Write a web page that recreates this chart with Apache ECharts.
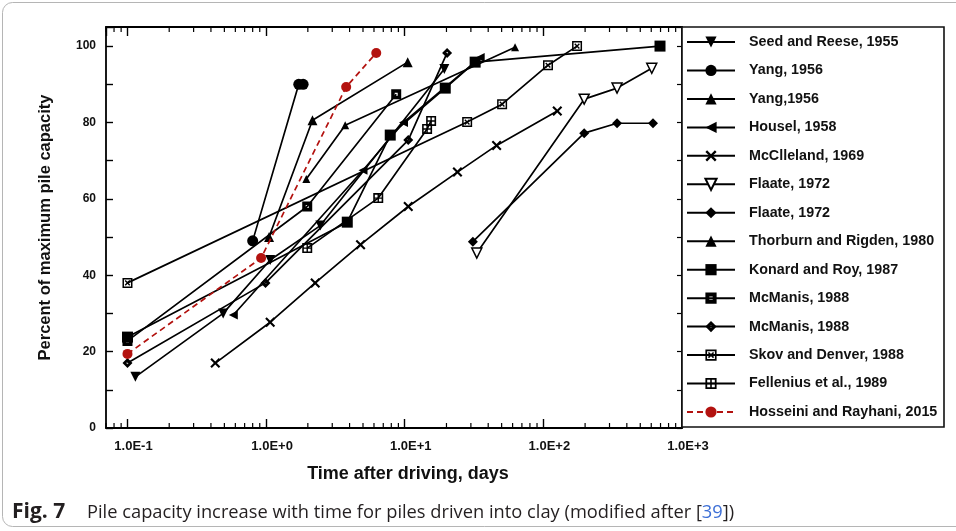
<!DOCTYPE html>
<html><head><meta charset="utf-8">
<script src="https://cdn.jsdelivr.net/npm/echarts@6/dist/echarts.min.js"></script>
<style>html,body{margin:0;padding:0;background:#fff}#c{width:956px;height:531px}</style>
</head><body><div id="c"></div><script>
// ---- data (time in days, percent of maximum pile capacity) ----
const seedReese   = [[0.114,13.4],[0.49,30],[1.07,44],[2.46,53],[19.3,94]];
const yangCircle  = [[0.8,49],[1.72,90],[1.85,90]];
const yangTri     = [[1.05,50],[2.16,80.6],[10.5,95.8]];
const housel      = [[0.58,29.6],[5.0,67.5],[9.8,80],[35,97]];
const mcclleland  = [[0.43,17],[1.07,27.7],[2.26,38],[4.8,48],[10.6,58],[24,67],[46,74],[126,83]];
const flaateTri   = [[33.1,45.8],[197,86.1],[340,89],[605,94.2]];
const flaateDia   = [[31,48.8],[197,77.2],[340,79.8],[618,79.8]];
const thorburn    = [[1.95,65.2],[3.72,79.3],[62.5,99.7]];
const konard      = [[0.1,23.8],[3.85,53.9],[7.86,76.7],[19.6,89],[32.2,95.8],[694,100]];
const mcmanisSq   = [[0.1,22.8],[1.98,58],[8.68,87.4]];
const mcmanisDia  = [[0.1,17],[0.99,38],[10.6,75.4],[20.2,98.2]];
const skov        = [[0.1,38],[28.2,80.1],[50.4,84.8],[108,95],[175,100]];
const fellenius   = [[1.98,47.1],[6.44,60.2],[14.5,78.3],[15.5,80.4]];
const hosseini    = [[0.1,19.4],[0.92,44.5],[3.78,89.3],[6.23,98.2]];

const xMinorTicks = [0.07,0.08,0.09,0.2,0.3,0.4,0.5,0.6,0.7,0.8,0.9,2,3,4,5,6,7,8,9,
                     20,30,40,50,60,70,80,90,200,300,400,500,600,700,800,900];

const FONT = 'Liberation Sans';
const INK = '#111';

const SYM = {
  cross:  'path://M1.5,0L5,3.5L8.5,0L10,1.5L6.5,5L10,8.5L8.5,10L5,6.5L1.5,10L0,8.5L3.5,5L0,1.5Z',
  sqDot:  'path://M0,0H10V10H0Z M3.5,3.5V6.5H6.5V3.5Z',
  diaDot: 'path://M5,0L10,5L5,10L0,5Z M5,3.8L3.8,5L5,6.2L6.2,5Z',
  sqPlus: 'path://M0,0H10V10H0Z M1.6,1.6V8.4H8.4V1.6Z M4.3,1.6H5.7V8.4H4.3Z M1.6,4.3H8.4V5.7H1.6Z',
  sqX:    'path://M0,0H10V10H0Z M1.5,1.5V8.5H8.5V1.5Z M2.2,3.2L3.2,2.2L7.8,6.8L6.8,7.8Z M6.8,2.2L7.8,3.2L3.2,7.8L2.2,6.8Z'
};

function mk(name, data, symbol, size, opt) {
  opt = opt || {};
  return {
    name: name, type: 'line', data: data,
    symbol: symbol, symbolSize: size, symbolRotate: opt.rotate || 0,
    showSymbol: true, animation: false, z: opt.z || 3,
    itemStyle: opt.itemStyle || {color: '#000'},
    lineStyle: opt.lineStyle || {color: '#000', width: 1.7},
    emphasis: {disabled: true}
  };
}

const series = [
  mk('Seed and Reese, 1955', seedReese, 'triangle', 10, {rotate: 180}),
  mk('Yang, 1956', yangCircle, 'circle', 11),
  mk('Yang,1956', yangTri, 'triangle', 10),
  mk('Housel, 1958', housel, 'triangle', 9, {rotate: 90}),
  mk('McClleland, 1969', mcclleland, SYM.cross, 10),
  mk('Flaate, 1972', flaateTri, 'triangle', 10, {rotate: 180, itemStyle: {color: '#fff', borderColor: '#000', borderWidth: 1.5}}),
  mk('Flaate, 1972 ', flaateDia, 'diamond', 10),
  mk('Thorburn and Rigden, 1980', thorburn, 'triangle', 8),
  mk('Konard and Roy, 1987', konard, 'rect', 11),
  mk('McManis, 1988', mcmanisSq, SYM.sqDot, 10),
  mk('McManis, 1988 ', mcmanisDia, SYM.diaDot, 10),
  mk('Skov and Denver, 1988', skov, SYM.sqX, 10),
  mk('Fellenius et al., 1989', fellenius, SYM.sqPlus, 10),
  mk('Hosseini and Rayhani, 2015', hosseini, 'circle', 10, {z: 6,
     itemStyle: {color: '#b3120f'}, lineStyle: {color: '#b3120f', width: 1.7, type: [6, 4]}}),
  {
    type: 'custom', name: 'minorTicks', silent: true, animation: false, z: 4, clip: false,
    data: xMinorTicks.map(v => [v, 0]),
    renderItem: function (params, api) {
      const v = api.value(0);
      const b = api.coord([v, 0]);
      const t = api.coord([v, 105]);
      return {type: 'group', children: [
        {type: 'line', shape: {x1: b[0], y1: b[1], x2: b[0], y2: b[1] - 5}, style: {stroke: '#000', lineWidth: 1.2}},
        {type: 'line', shape: {x1: t[0], y1: t[1], x2: t[0], y2: t[1] + 5}, style: {stroke: '#000', lineWidth: 1.2}}
      ]};
    }
  }
];

const legendNames = series.filter(s => s.type === 'line').map(s => s.name);

function xFmt(v) {
  const e = Math.round(Math.log10(v));
  if (Math.abs(Math.log10(v) - e) > 1e-6) return '';
  return '1.0E' + (e < 0 ? '-' : '+') + Math.abs(e);
}

const axisLine = {show: true, onZero: false, lineStyle: {color: '#000', width: 1.8}};
const labelStyle = {color: INK, fontFamily: FONT, fontWeight: 'bold', fontSize: 12};

const option = {
  backgroundColor: '#fff',
  animation: false,
  grid: {left: 106, right: 274, top: 27, bottom: 103},
  xAxis: [
    {type: 'log', logBase: 10, min: 0.07, max: 1000, position: 'bottom',
     axisLine: axisLine, axisTick: {inside: true, length: 9, lineStyle: {color: '#000', width: 1.4}},
     axisLabel: Object.assign({formatter: xFmt, margin: 12, showMinLabel: false, padding: [0, 0, 0, 12]}, labelStyle, {fontSize: 13}),
     splitLine: {show: false}, minorTick: {show: false},
     name: 'Time after driving, days', nameLocation: 'middle', nameGap: 37,
     nameTextStyle: {color: INK, fontFamily: FONT, fontWeight: 'bold', fontSize: 18, padding: [0, 0, 0, 28]}},
    {type: 'log', logBase: 10, min: 0.07, max: 1000, position: 'top',
     axisLine: axisLine, axisTick: {inside: true, length: 9, lineStyle: {color: '#000', width: 1.4}},
     axisLabel: {show: false}, splitLine: {show: false}}
  ],
  yAxis: [
    {type: 'value', min: 0, max: 105, interval: 10, position: 'left',
     axisLine: axisLine, axisTick: {inside: true, length: 7, lineStyle: {color: '#000', width: 1.4}},
     axisLabel: Object.assign({formatter: v => (v % 20 === 0 ? String(v) : ''), margin: 10}, labelStyle),
     splitLine: {show: false},
     name: 'Percent of maximum pile capacity', nameLocation: 'middle', nameGap: 52,
     nameTextStyle: {color: INK, fontFamily: FONT, fontWeight: 'bold', fontSize: 16.5}},
    {type: 'value', min: 0, max: 105, interval: 10, position: 'right',
     axisLine: axisLine, axisTick: {inside: true, length: 5, lineStyle: {color: '#000', width: 1.2}},
     axisLabel: {show: false}, splitLine: {show: false}}
  ],
  legend: {
    data: legendNames, orient: 'vertical', left: 686, top: 35, padding: 0,
    itemWidth: 48, itemHeight: 14, itemGap: 14.46, selectedMode: false, z: 10,
    textStyle: {fontFamily: FONT, fontWeight: 'bold', fontSize: 14.3, color: INK, lineHeight: 14, padding: [0, 0, 0, 9]}
  },
  graphic: [
    {type: 'rect', z: 1, shape: {x: 2.5, y: 2.5, width: 990, height: 524, r: 10},
     style: {fill: 'none', stroke: '#b5b5b5', lineWidth: 1}},
    {type: 'rect', z: 2, shape: {x: 682, y: 27, width: 262, height: 400},
     style: {fill: '#fff', stroke: '#111', lineWidth: 1.6}},
    {type: 'text', left: 12, top: 502, z: 5,
     style: {
       text: '{b|Fig. 7}{n|Pile capacity increase with time for piles driven into clay (modified after [}{l|39}{n|])}',
       rich: {
         b: {fontFamily: 'Open Sans', fontWeight: 'bold', fontSize: 21, width: 75, fill: '#231f20', color: '#231f20'},
         n: {fontFamily: 'Open Sans', fontSize: 18.3, fill: '#231f20', color: '#231f20'},
         l: {fontFamily: 'Open Sans', fontSize: 18.3, fill: '#3d6fd6', color: '#3d6fd6'}
       }
     }}
  ],
  series: series
};

const chart = echarts.init(document.getElementById('c'), null, {renderer: 'canvas'});
chart.setOption(option);
</script></body></html>
